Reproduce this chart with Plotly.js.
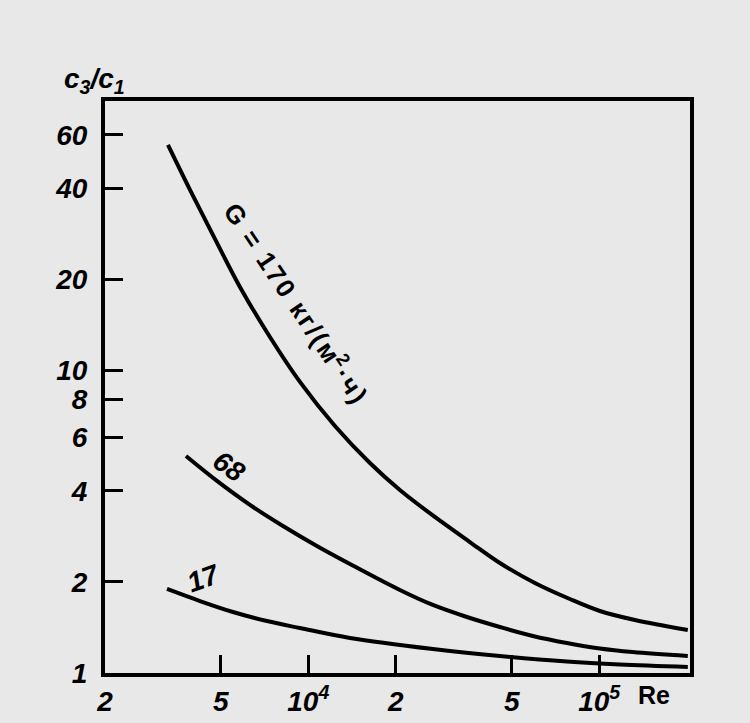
<!DOCTYPE html>
<html>
<head>
<meta charset="utf-8">
<script src="https://cdn.plot.ly/plotly-3.0.1.min.js"></script>
<style>html,body{margin:0;padding:0;background:#e8e8e8;}#chart{width:750px;height:723px;}</style>
</head>
<body>
<div id="chart"></div>
<script>
// Re values and c3/c1 values
const re170 = [3292, 3919, 4775, 5819, 7379, 9357, 12346, 16281, 20640, 27230, 35920, 45540, 60080, 79250, 100500, 132600, 201600];
const c170  = [55.6, 39.5, 27.2, 18.86, 12.89, 9.16, 6.55, 4.943, 4.025, 3.278, 2.709, 2.309, 1.984, 1.756, 1.603, 1.497, 1.387];
const re68  = [3797, 4852, 6300, 8180, 10700, 13900, 20640, 26800, 35080, 45540, 59130, 77380, 100500, 130400, 201600];
const c68   = [5.21, 4.311, 3.592, 3.060, 2.629, 2.292, 1.881, 1.678, 1.531, 1.419, 1.325, 1.256, 1.205, 1.173, 1.138];
const re17  = [3267, 4241, 5507, 7206, 9357, 13900, 26800, 45540, 77380, 117700, 201600];
const c17   = [1.895, 1.729, 1.591, 1.485, 1.408, 1.305, 1.20, 1.138, 1.091, 1.067, 1.047];

const xTickVals = [2000, 5000, 10000, 20000, 50000, 100000];
const xTickText = ['2', '5', '10<sup>4</sup>', '2', '5', '10<sup>5</sup>'];
const yTickVals = [1, 2, 4, 6, 8, 10, 20, 40, 60];
const yTickText = ['1', '2', '4', '6', '8', '10', '20', '40', '60'];

const labelFont = {family: 'Liberation Sans, sans-serif', size: 28, color: '#000', style: 'italic', weight: 'bold'};
const line = {color: '#000', width: 4, shape: 'spline', smoothing: 1};

const traces = [
  {x: re170, y: c170, mode: 'lines', line: line, hoverinfo: 'skip'},
  {x: re68,  y: c68,  mode: 'lines', line: line, hoverinfo: 'skip'},
  {x: re17,  y: c17,  mode: 'lines', line: line, hoverinfo: 'skip'}
];

function px(x) { return (x - 105) / 585; }
function py(y) { return (673 - y) / 572; }

const hs = '\u200A';
const gLabel = ['G', ' ', '=', ' ', '1', '7', '0', ' ', 'к', 'г', '/', '(', 'м<sup>2</sup>', '·', 'ч', ')'].join(hs);

const layout = {
  width: 750, height: 723,
  margin: {l: 105, r: 60, t: 101, b: 50, pad: 0},
  paper_bgcolor: '#e8e8e8', plot_bgcolor: '#e8e8e8',
  showlegend: false,
  xaxis: {
    type: 'log', range: [Math.log10(2000), 5.312],
    tickvals: xTickVals, ticktext: xTickText,
    ticks: 'inside', ticklen: 18, tickwidth: 2.5, tickcolor: '#000',
    showline: true, linewidth: 4, linecolor: '#000', mirror: true,
    showgrid: false, zeroline: false,
    tickfont: labelFont, ticklabelstandoff: 0
  },
  yaxis: {
    type: 'log', range: [0, 1.89],
    tickvals: yTickVals, ticktext: yTickText,
    ticks: 'inside', ticklen: 18, tickwidth: 2.5, tickcolor: '#000',
    showline: true, linewidth: 4, linecolor: '#000', mirror: true,
    showgrid: false, zeroline: false,
    tickfont: labelFont, ticklabelstandoff: 8
  },
  annotations: [
    {xref: 'paper', yref: 'paper', x: px(654), y: py(695), xanchor: 'center', yanchor: 'middle',
     text: '<b>Re</b>', showarrow: false, font: {family: 'Liberation Sans, sans-serif', size: 25, color: '#000'}},
    {xref: 'paper', yref: 'paper', x: px(94), y: py(80), xanchor: 'center', yanchor: 'middle',
     text: 'c<sub>3</sub>/c<sub>1</sub>', showarrow: false, font: labelFont},
    {xref: 'paper', yref: 'paper', x: px(297), y: py(302), xanchor: 'center', yanchor: 'middle',
     text: gLabel, textangle: 56, showarrow: false,
     font: {family: 'Liberation Sans, sans-serif', size: 26, color: '#000', weight: 'bold'}},
    {xref: 'paper', yref: 'paper', x: px(229), y: py(467), xanchor: 'center', yanchor: 'middle',
     text: '68', textangle: 35, showarrow: false, font: labelFont},
    {xref: 'paper', yref: 'paper', x: px(203), y: py(578), xanchor: 'center', yanchor: 'middle',
     text: '17', textangle: -20, showarrow: false, font: labelFont}
  ]
};

Plotly.newPlot('chart', traces, layout, {displayModeBar: false});
</script>
</body>
</html>
